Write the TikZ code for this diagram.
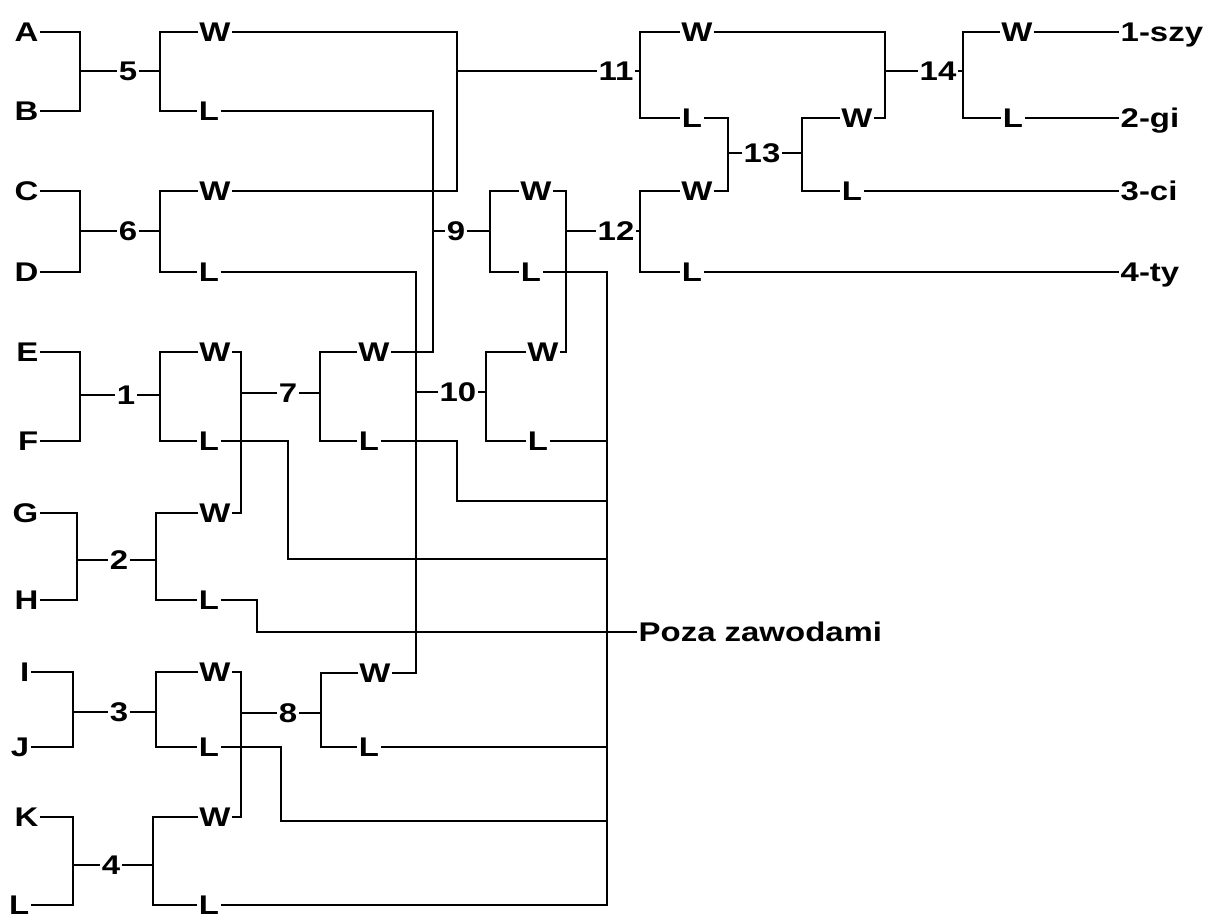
\documentclass[tikz,border=0pt]{standalone}
\usepackage{fontspec}
\setmainfont[FakeStretch=1.22]{Liberation Sans}
\begin{document}
\begin{tikzpicture}[x=1pt,y=-1pt,
  lbl/.style={font=\fontsize{27}{27}\selectfont\bfseries, inner sep=1.5pt, text depth=0pt, text height=19.3pt},
  ln/.style={line width=1.8pt, line join=miter}]
\useasboundingbox (0,0) rectangle (1208,920);
% team letters
\node[lbl,anchor=east] (A) at (40,32) {A};
\node[lbl,anchor=east] (B) at (40,111) {B};
\node[lbl,anchor=east] (C) at (40,191) {C};
\node[lbl,anchor=east] (D) at (40,272) {D};
\node[lbl,anchor=east] (E) at (40,352) {E};
\node[lbl,anchor=east] (F) at (40,441) {F};
\node[lbl,anchor=east] (G) at (40,513) {G};
\node[lbl,anchor=east] (H) at (40,600) {H};
\node[lbl,anchor=east] (I) at (31,672) {I};
\node[lbl,anchor=east] (J) at (31,747) {J};
\node[lbl,anchor=east] (K) at (40,817) {K};
\node[lbl,anchor=east] (Lt) at (31,905) {L};
% match numbers
\node[lbl] (n5) at (128,71) {5};
\node[lbl] (n6) at (128,231) {6};
\node[lbl] (n1) at (126,395) {1};
\node[lbl] (n2) at (119,560) {2};
\node[lbl] (n3) at (119,712) {3};
\node[lbl] (n4) at (111,865) {4};
\node[lbl] (n7) at (288,393) {7};
\node[lbl] (n8) at (288,713) {8};
\node[lbl] (n9) at (456,231) {9};
\node[lbl] (n10) at (458,392) {10};
\node[lbl] (n11) at (616,71) {11};
\node[lbl] (n12) at (616,231) {12};
\node[lbl] (n13) at (762,153) {13};
\node[lbl] (n14) at (938,71) {14};
% winners / losers
\node[lbl] (w5) at (215,32) {W};
\node[lbl] (l5) at (209,111) {L};
\node[lbl] (w6) at (215,191) {W};
\node[lbl] (l6) at (209,272) {L};
\node[lbl] (w1) at (215,352) {W};
\node[lbl] (l1) at (209,441) {L};
\node[lbl] (w2) at (215,513) {W};
\node[lbl] (l2) at (209,600) {L};
\node[lbl] (w3) at (215,672) {W};
\node[lbl] (l3) at (209,747) {L};
\node[lbl] (w4) at (215,817) {W};
\node[lbl] (l4) at (209,905) {L};
\node[lbl] (w7) at (374,352) {W};
\node[lbl] (l7) at (369,441) {L};
\node[lbl] (w8) at (375,673) {W};
\node[lbl] (l8) at (369,747) {L};
\node[lbl] (w9) at (536,191) {W};
\node[lbl] (l9) at (531,272) {L};
\node[lbl] (w10) at (543,352) {W};
\node[lbl] (l10) at (538,441) {L};
\node[lbl] (w11) at (697,32) {W};
\node[lbl] (l11) at (692,118) {L};
\node[lbl] (w12) at (697,191) {W};
\node[lbl] (l12) at (692,272) {L};
\node[lbl] (w13) at (857,118) {W};
\node[lbl] (l13) at (852,191) {L};
\node[lbl] (w14) at (1017,32) {W};
\node[lbl] (l14) at (1013,118) {L};
% results
\node[lbl,anchor=west] (r1) at (1119,32) {1-szy};
\node[lbl,anchor=west] (r2) at (1119,118) {2-gi};
\node[lbl,anchor=west] (r3) at (1119,191) {3-ci};
\node[lbl,anchor=west] (r4) at (1119,272) {4-ty};
\node[lbl,anchor=west] (poza) at (637,632) {Poza zawodami};
% first round
\draw[ln] (A) -- (80,32) -- (80,111) -- (B);
\draw[ln] (80,71) -- (n5); \draw[ln] (n5) -- (160,71);
\draw[ln] (w5) -- (160,32) -- (160,111) -- (l5);
\draw[ln] (C) -- (80,191) -- (80,272) -- (D);
\draw[ln] (80,231) -- (n6); \draw[ln] (n6) -- (160,231);
\draw[ln] (w6) -- (160,191) -- (160,272) -- (l6);
\draw[ln] (E) -- (80,352) -- (80,441) -- (F);
\draw[ln] (80,395) -- (n1); \draw[ln] (n1) -- (160,395);
\draw[ln] (w1) -- (160,352) -- (160,441) -- (l1);
\draw[ln] (G) -- (77,513) -- (77,600) -- (H);
\draw[ln] (77,560) -- (n2); \draw[ln] (n2) -- (156,560);
\draw[ln] (w2) -- (156,513) -- (156,600) -- (l2);
\draw[ln] (I) -- (73,672) -- (73,747) -- (J);
\draw[ln] (73,712) -- (n3); \draw[ln] (n3) -- (156,712);
\draw[ln] (w3) -- (156,672) -- (156,747) -- (l3);
\draw[ln] (K) -- (73,817) -- (73,905) -- (Lt);
\draw[ln] (73,865) -- (n4); \draw[ln] (n4) -- (153,865);
\draw[ln] (w4) -- (153,817) -- (153,905) -- (l4);
% 7 and 8
\draw[ln] (w1) -- (241,352) -- (241,513) -- (w2);
\draw[ln] (241,393) -- (n7); \draw[ln] (n7) -- (320,393);
\draw[ln] (w7) -- (320,352) -- (320,441) -- (l7);
\draw[ln] (w3) -- (241,672) -- (241,817) -- (w4);
\draw[ln] (241,713) -- (n8); \draw[ln] (n8) -- (321,713);
\draw[ln] (w8) -- (321,673) -- (321,747) -- (l8);
% 9 and 10
\draw[ln] (l5) -- (433,111) -- (433,352) -- (w7);
\draw[ln] (433,231) -- (n9); \draw[ln] (n9) -- (490,231);
\draw[ln] (w9) -- (490,191) -- (490,272) -- (l9);
\draw[ln] (l6) -- (416,272) -- (416,673) -- (w8);
\draw[ln] (416,392) -- (n10); \draw[ln] (n10) -- (486,392);
\draw[ln] (w10) -- (486,352) -- (486,441) -- (l10);
% 11 and 12
\draw[ln] (w5) -- (457,32) -- (457,191) -- (w6);
\draw[ln] (457,71) -- (n11); \draw[ln] (n11) -- (640,71);
\draw[ln] (w11) -- (640,32) -- (640,118) -- (l11);
\draw[ln] (w9) -- (566,191) -- (566,352) -- (w10);
\draw[ln] (566,231) -- (n12); \draw[ln] (n12) -- (640,231);
\draw[ln] (w12) -- (640,191) -- (640,272) -- (l12);
% 13 and 14
\draw[ln] (l11) -- (728,118) -- (728,191) -- (w12);
\draw[ln] (728,153) -- (n13); \draw[ln] (n13) -- (802,153);
\draw[ln] (w13) -- (802,118) -- (802,191) -- (l13);
\draw[ln] (w11) -- (885,32) -- (885,118) -- (w13);
\draw[ln] (885,71) -- (n14); \draw[ln] (n14) -- (963,71);
\draw[ln] (w14) -- (963,32) -- (963,118) -- (l14);
% results
\draw[ln] (w14) -- (r1);
\draw[ln] (l14) -- (r2);
\draw[ln] (l13) -- (r3);
\draw[ln] (l12) -- (r4);
% eliminated
\draw[ln] (l9) -- (607,272) -- (607,905) -- (l4);
\draw[ln] (l10) -- (607,441);
\draw[ln] (l7) -- (457,441) -- (457,501) -- (607,501);
\draw[ln] (l1) -- (288,441) -- (288,559) -- (607,559);
\draw[ln] (l2) -- (257,600) -- (257,632) -- (poza);
\draw[ln] (l8) -- (607,747);
\draw[ln] (l3) -- (281,747) -- (281,821) -- (607,821);
\end{tikzpicture}
\end{document}
